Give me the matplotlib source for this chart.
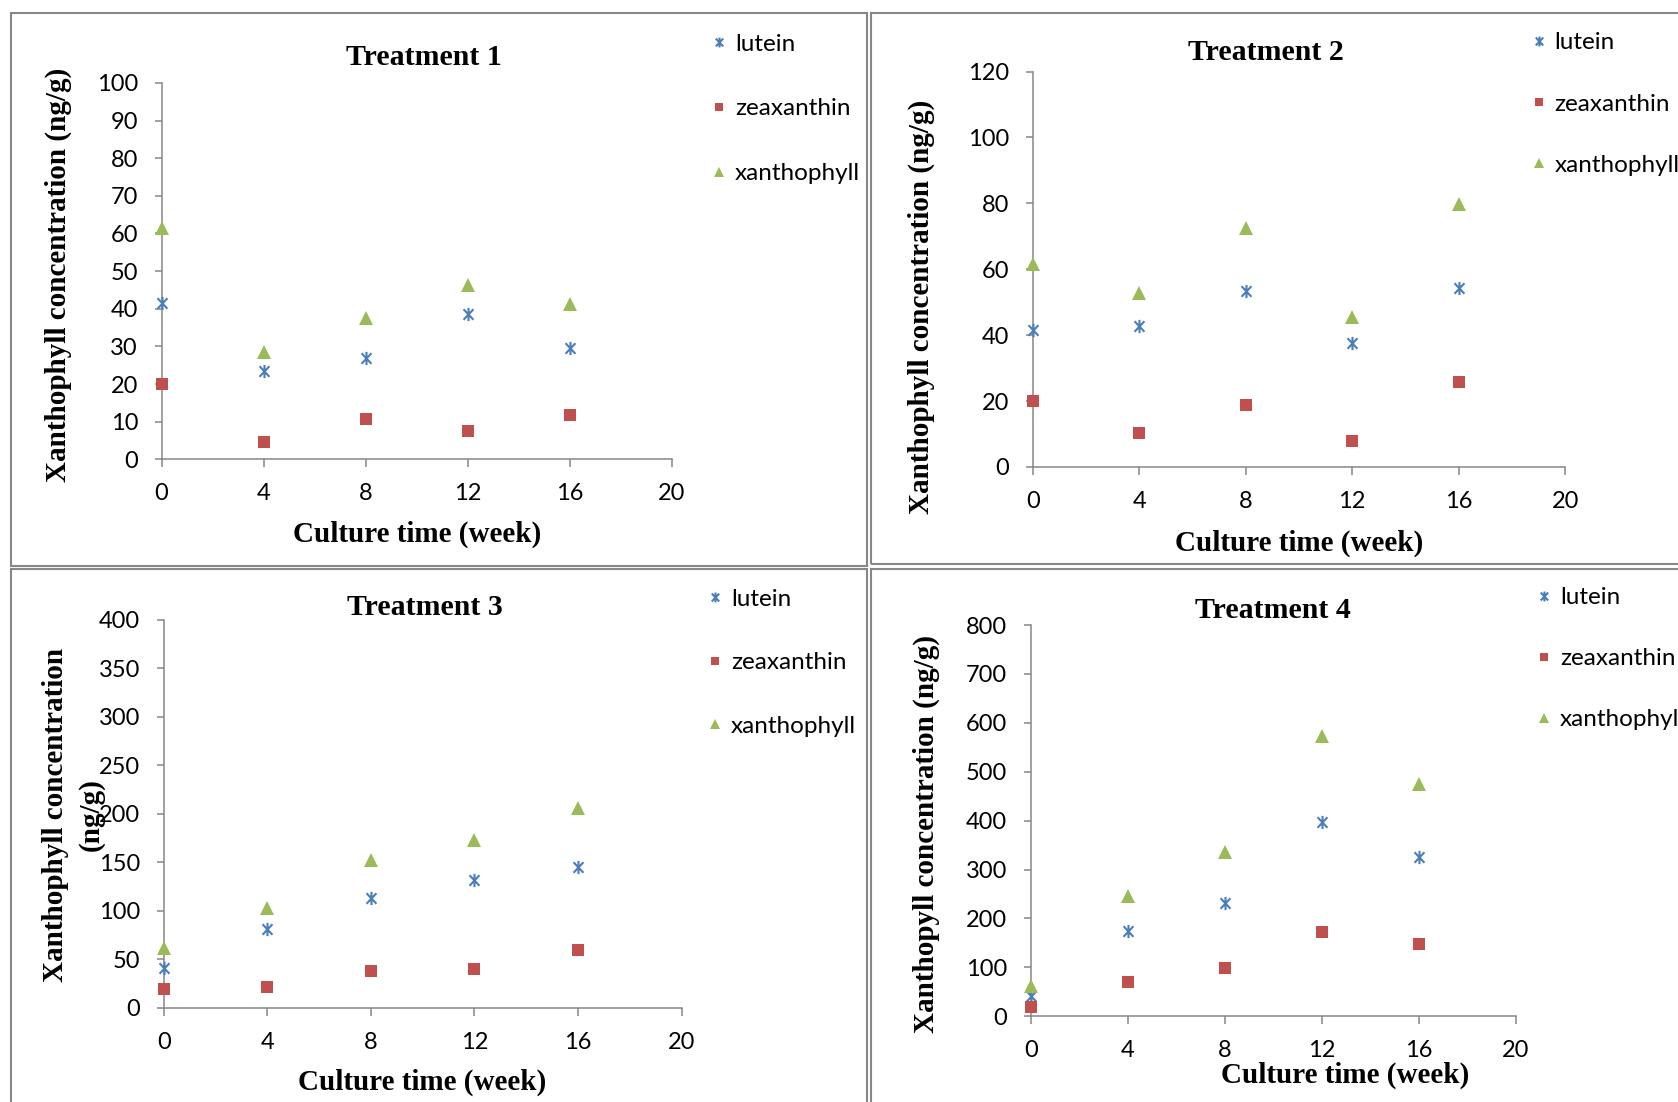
######################################
# Xanthophyll content, four treatments
######################################

import matplotlib
matplotlib.use("Agg")
from matplotlib import pyplot as plt
from matplotlib.path import Path
from matplotlib.patches import Rectangle

W, H = 1678, 1102

weeks = [0, 4, 8, 12, 16]
series_names = ["lutein", "zeaxanthin", "xanthophyll"]

t1_lutein = [41.5, 23.4, 26.9, 38.7, 29.5]
t1_zeaxanthin = [20.0, 4.7, 10.6, 7.4, 11.8]
t1_xanthophyll = [61.5, 28.4, 37.6, 46.2, 41.2]

t2_lutein = [41.5, 42.7, 53.4, 37.6, 54.2]
t2_zeaxanthin = [20.0, 10.2, 18.9, 7.8, 25.8]
t2_xanthophyll = [61.5, 52.9, 72.4, 45.6, 79.9]

t3_lutein = [41.3, 81.2, 113.3, 132.1, 145.7]
t3_zeaxanthin = [20.0, 21.4, 38.5, 40.6, 60.2]
t3_xanthophyll = [61.6, 102.6, 152.4, 173.1, 206.2]

t4_lutein = [41.0, 173.8, 232.5, 397.9, 325.0]
t4_zeaxanthin = [19.8, 69.3, 99.6, 172.4, 148.4]
t4_xanthophyll = [61.5, 246.0, 335.7, 572.4, 475.6]

titles = ["Treatment 1", "Treatment 2", "Treatment 3", "Treatment 4"]
ylabels = [
    "Xanthophyll concentration (ng/g)",
    "Xanthophyll concentration (ng/g)",
    "Xanthophyll concentration\n(ng/g)",
    "Xanthopyll concentration (ng/g)",
]
y_max = [100, 120, 400, 800]
y_step = [10, 20, 50, 100]

data = [
    (t1_lutein, t1_zeaxanthin, t1_xanthophyll),
    (t2_lutein, t2_zeaxanthin, t2_xanthophyll),
    (t3_lutein, t3_zeaxanthin, t3_xanthophyll),
    (t4_lutein, t4_zeaxanthin, t4_xanthophyll),
]

# layout in pixels of the reference
# axes: x at 0, x at 20, y bottom, y top
axes_px = [
    (161.5, 672.0, 459.3, 82.9),
    (1032.8, 1565.1, 466.9, 71.6),
    (163.7, 681.5, 1008.0, 619.8),
    (1030.8, 1515.7, 1016.3, 625.0),
]
title_px = [(424, 57.5), (1266, 52.7), (424.5, 607.7), (1272.6, 611)]
ylabel_px = [(58, 275), (921.5, 307), (73.5, 815), (926.7, 834)]
xlabel_px = [(417, 534.5), (1299, 543.6), (422, 1082), (1344.7, 1075)]
legend_px = [(719, 45.5), (1538.5, 44.4), (714.8, 600.8), (1544, 599)]
legend_gap = [1.8, 1.65, 1.75, 1.65]
frames_px = [
    (11, 13, 867, 566),
    (871, 13, 1700, 564),
    (11, 568.5, 867, 1120),
    (871, 568.5, 1700, 1120),
]

colors = ["#4A7EBB", "#C0504D", "#9BBB59"]
grey = "#868686"

serif = "Liberation Serif"
sans = "Lato"

# excel style star: an x with a vertical bar
star = Path(
    [(-0.75, -0.8), (0.75, 0.8), (-0.75, 0.8), (0.75, -0.8), (0, -1), (0, 1)],
    [Path.MOVETO, Path.LINETO] * 3,
)


def fx(x):
    return x / W


def fy(y):
    return 1 - y / H


fig = plt.figure(figsize=(W / 100, H / 100), dpi=100)

for x0, y0, x1, y1 in frames_px:
    fig.add_artist(Rectangle((fx(x0), fy(y1)), fx(x1) - fx(x0), fy(y0) - fy(y1),
                             transform=fig.transFigure, fill=False,
                             edgecolor="#878787", linewidth=1.5))

for i in range(4):
    xl, xr, yb, yt = axes_px[i]
    ax = fig.add_axes([fx(xl), fy(yb), fx(xr) - fx(xl), fy(yt) - fy(yb)])
    lut, zea, xan = data[i]

    l1, = ax.plot(weeks, lut, linestyle="none", marker=star, markersize=9.5,
                  markeredgewidth=1.5, color=colors[0], clip_on=False, zorder=3)
    l2, = ax.plot(weeks, zea, linestyle="none", marker="s", markersize=8.5,
                  color=colors[1], markeredgewidth=0, clip_on=False, zorder=3)
    l3, = ax.plot(weeks, xan, linestyle="none", marker="^", markersize=9.5,
                  color=colors[2], markeredgewidth=0, clip_on=False, zorder=3)

    ax.set_xlim(0, 20)
    ax.set_ylim(0, y_max[i])
    ax.set_xticks(range(0, 21, 4))
    ax.set_yticks(range(0, y_max[i] + 1, y_step[i]))

    for s in ["top", "right"]:
        ax.spines[s].set_visible(False)
    for s in ["left", "bottom"]:
        ax.spines[s].set_color(grey)
        ax.spines[s].set_linewidth(1.1)
    ax.tick_params(axis="both", direction="out", length=5.4, width=1.1,
                   color=grey, labelsize=17)
    ax.tick_params(axis="y", pad=11.5)
    ax.tick_params(axis="x", pad=12)
    for lab in ax.get_xticklabels() + ax.get_yticklabels():
        lab.set_family(sans)

    fig.text(fx(title_px[i][0]), fy(title_px[i][1]), titles[i], ha="center",
             va="center", family=serif, weight="bold", fontsize=21.5)
    fig.text(fx(ylabel_px[i][0]), fy(ylabel_px[i][1]), ylabels[i], ha="center",
             va="center", rotation=90, multialignment="center", linespacing=1.4,
             family=serif, weight="bold", fontsize=21)
    fig.text(fx(xlabel_px[i][0]), fy(xlabel_px[i][1]), "Culture time (week)",
             ha="center", va="center", family=serif, weight="bold", fontsize=21)

    mx, my = legend_px[i]
    leg = ax.legend([l1, l2, l3], series_names, loc="upper left",
                    bbox_to_anchor=(fx(mx - 7), fy(my - 12)),
                    bbox_transform=fig.transFigure, frameon=False, numpoints=1,
                    markerscale=0.75, handlelength=0.6, handletextpad=0.35,
                    borderpad=0, borderaxespad=0, labelspacing=legend_gap[i],
                    prop={"family": sans, "size": 17.5})

plt.savefig("out.png", dpi=100)
